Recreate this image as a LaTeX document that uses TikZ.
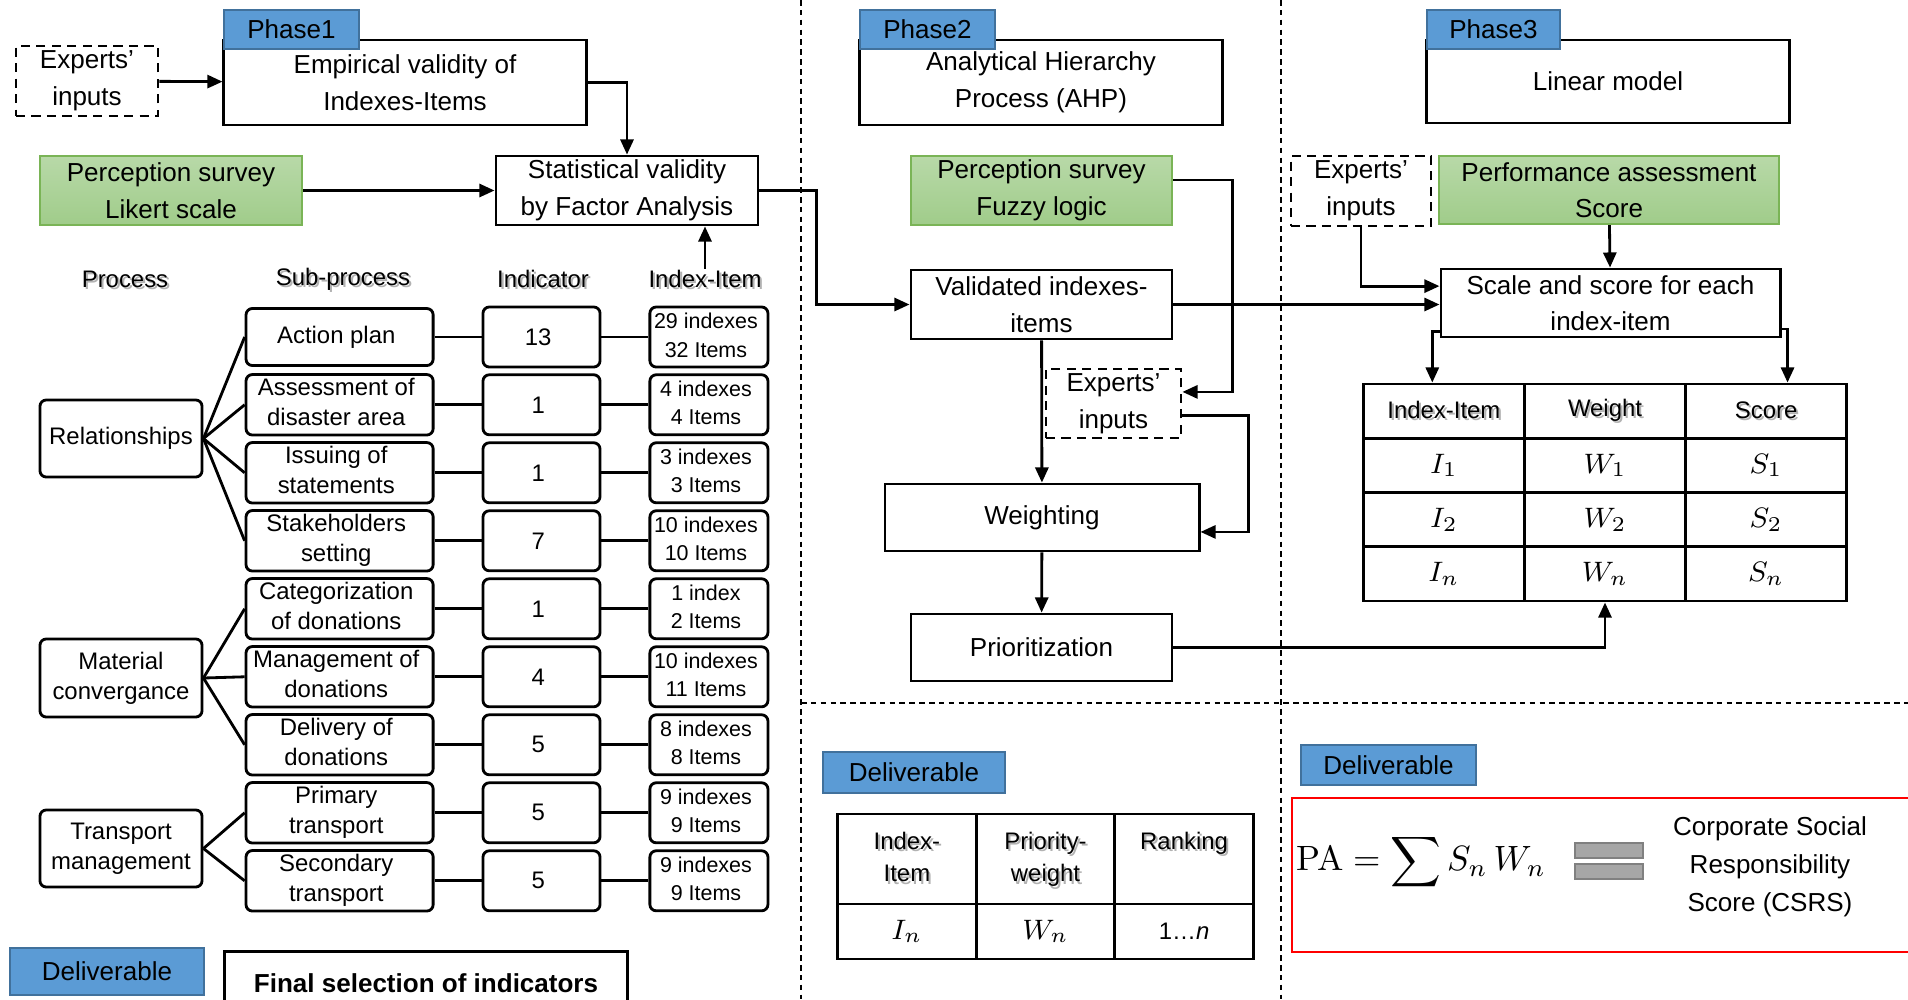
\documentclass[tikz,border=0pt]{standalone}
\usepackage{fontspec}
\setmainfont{Liberation Sans}
\usetikzlibrary{arrows.meta,matrix}

\definecolor{tabblue}{RGB}{91,155,213}
\definecolor{tabline}{RGB}{65,113,156}
\definecolor{grntop}{RGB}{184,217,168}
\definecolor{grnbot}{RGB}{160,204,138}
\definecolor{grnline}{RGB}{122,180,86}
\definecolor{bargray}{RGB}{166,166,166}
\definecolor{barline}{RGB}{128,128,128}

\newcommand\fbig{\fontsize{7.4}{10.4}\selectfont}
\newcommand\fmid{\fontsize{6.8}{8.6}\selectfont}
\newcommand\fsml{\fontsize{6.1}{8.2}\selectfont}
\newcommand\fhed{\fontsize{6.8}{9.3}\selectfont}
\newcommand\fmth{\fontsize{8.4}{10}\selectfont}
\newcommand\shd[1]{\rlap{\kern0.6pt\raisebox{-0.6pt}{\textcolor{black!30}{#1}}}#1}
\newcommand\twol[2]{\begin{tabular}{@{}c@{}}#1\\#2\end{tabular}}

\begin{document}
\begin{tikzpicture}[x=0.01cm,y=-0.01cm
	,->,>={Triangle[length=4.3pt,width=3.7pt]}
	,line width=0.8pt
	,every node/.style={inner sep=0pt}
	,box/.style={draw,align=center,font=\fbig}
	,dbox/.style={box,dash pattern=on 2.6pt off 1.8pt}
	,survey/.style={box,draw=grnline,line width=0.6pt,top color=grntop,bottom color=grnbot}
	,phasetab/.style={box,draw=tabline,line width=0.6pt,fill=tabblue}
	,rbox/.style={draw,align=center,rounded corners=1.8pt,font=\fmid}
	,hdr/.style={font=\fmid}
	,sep/.style={-,line width=0.35pt,dash pattern=on 1.6pt off 1.2pt}]

  \useasboundingbox (0,0) rectangle (1908,999);
  \clip (0,0) rectangle (1908,999);

  %dashed separators
  \draw[sep] (801,0) -- (801,999) (1281,0) -- (1281,999) (801,703) -- (1908,703);

  %phase 1 top
  \node[dbox,minimum width=1.42cm,minimum height=0.70cm] (exp1) at (87,81) {Experts'\\inputs};
  \node[box,minimum width=3.62cm,minimum height=0.85cm] (emp) at (405,82.5) {Empirical validity of\\Indexes-Items};
  \node[phasetab,minimum width=1.35cm,minimum height=0.39cm] (ph1) at (291.5,29.5) {Phase1};
  \node[survey,minimum width=2.62cm,minimum height=0.69cm] (lik) at (171,190.5) {Perception survey\\Likert scale};
  \node[box,minimum width=2.62cm,minimum height=0.69cm] (stat) at (627,190.5) {Statistical validity\\by Factor Analysis};

  %column heads
  \node[hdr] (hpro) at (125,280) {\shd{Process}};
  \node[hdr] (hsub) at (343,280) {\shd{Sub-process}};
  \node[hdr] (hind) at (543,280) {\shd{Indicator}};
  \node[hdr] (hidx) at (705,280) {\shd{Index-Item}};

  %sub-process, indicator, index-item rows
  \matrix[matrix of nodes
	,nodes={anchor=center}
	,row sep=0.047cm,column sep=0.47cm
	,column 1/.style={nodes={rbox,minimum width=1.87cm,minimum height=0.57cm}}
	,column 2/.style={nodes={rbox,minimum width=1.17cm,minimum height=0.6cm}}
	,column 3/.style={nodes={rbox,font=\fsml,minimum width=1.18cm,minimum height=0.6cm}}] (m) at (507,609)
  {
	Action plan & 13 & \twol{29 indexes}{32 Items} \\
	\twol{Assessment of}{disaster area} & 1 & \twol{4 indexes}{4 Items} \\
	\twol{Issuing of}{statements} & 1 & \twol{3 indexes}{3 Items} \\
	\twol{Stakeholders}{setting} & 7 & \twol{10 indexes}{10 Items} \\
	\twol{Categorization}{of donations} & 1 & \twol{1 index}{2 Items} \\
	\twol{Management of}{donations} & 4 & \twol{10 indexes}{11 Items} \\
	\twol{Delivery of}{donations} & 5 & \twol{8 indexes}{8 Items} \\
	\twol{Primary}{transport} & 5 & \twol{9 indexes}{9 Items} \\
	\twol{Secondary}{transport} & 5 & \twol{9 indexes}{9 Items} \\
  };

  %processes
  \node[rbox,minimum width=1.62cm,minimum height=0.77cm] (rel) at (121,438.5) {Relationships};
  \node[rbox,minimum width=1.62cm,minimum height=0.78cm] (mat) at (121,678) {Material\\convergance};
  \node[rbox,minimum width=1.62cm,minimum height=0.77cm] (tra) at (121,848.5) {Transport\\management};

  \path[-] (rel.east) edge (m-1-1.west) edge (m-2-1.west) edge (m-3-1.west) edge (m-4-1.west)
	(mat.east) edge (m-5-1.west) edge (m-6-1.west) edge (m-7-1.west)
	(tra.east) edge (m-8-1.west) edge (m-9-1.west);
  \path[-]
	(m-1-1) edge (m-1-2) (m-1-2) edge (m-1-3)
	(m-2-1) edge (m-2-2) (m-2-2) edge (m-2-3)
	(m-3-1) edge (m-3-2) (m-3-2) edge (m-3-3)
	(m-4-1) edge (m-4-2) (m-4-2) edge (m-4-3)
	(m-5-1) edge (m-5-2) (m-5-2) edge (m-5-3)
	(m-6-1) edge (m-6-2) (m-6-2) edge (m-6-3)
	(m-7-1) edge (m-7-2) (m-7-2) edge (m-7-3)
	(m-8-1) edge (m-8-2) (m-8-2) edge (m-8-3)
	(m-9-1) edge (m-9-2) (m-9-2) edge (m-9-3);

  %deliverable 1
  \node[phasetab,minimum width=1.94cm,minimum height=0.47cm] (del1) at (107,971.5) {Deliverable};
  \node[box,minimum width=4.02cm,minimum height=0.63cm] (fin) at (426,983) {\textbf{Final selection of indicators}};

  %phase 2
  \node[box,minimum width=3.62cm,minimum height=0.85cm] (ahp) at (1041,82.5) {Analytical Hierarchy\\Process (AHP)};
  \node[phasetab,minimum width=1.35cm,minimum height=0.39cm] (ph2) at (927.5,29.5) {Phase2};
  \node[survey,minimum width=2.61cm,minimum height=0.69cm] (fuz) at (1041.5,190.5) {Perception survey\\Fuzzy logic};
  \node[box,minimum width=2.61cm,minimum height=0.69cm] (val) at (1041.5,304.5) {Validated indexes-\\items};
  \node[dbox,minimum width=1.35cm,minimum height=0.69cm] (exp2) at (1113.5,403.5) {Experts'\\inputs};
  \node[box,minimum width=3.14cm,minimum height=0.67cm] (wgt) at (1042,517.5) {Weighting};
  \node[box,minimum width=2.61cm,minimum height=0.67cm] (pri) at (1041.5,647.5) {Prioritization};

  %deliverable 2
  \node[phasetab,minimum width=1.82cm,minimum height=0.41cm] (del2) at (914,772.5) {Deliverable};
  \matrix[matrix of nodes
	,nodes={draw,anchor=center,minimum width=1.385cm}
	,row sep=-0.8pt,column sep=-0.8pt
	,row 1/.style={nodes={font=\fhed,minimum height=0.9cm}}
	,row 2/.style={nodes={font=\fmth,minimum height=0.55cm}}] (t2) at (1045.5,886.5)
  {
	\twol{\shd{Index-}}{\shd{Item}} & \twol{\shd{Priority-}}{\shd{weight}} & \twol{\shd{Ranking}}{\strut} \\
	$I_n$ & $W_n$ & |[font=\fmid]| 1…\textit{n} \\
  };

  %phase 3
  \node[box,minimum width=3.62cm,minimum height=0.83cm] (lin) at (1608,81.5) {Linear model};
  \node[phasetab,minimum width=1.33cm,minimum height=0.39cm] (ph3) at (1493.5,29.5) {Phase3};
  \node[dbox,minimum width=1.40cm,minimum height=0.70cm] (exp3) at (1361,191) {Experts'\\inputs};
  \node[survey,minimum width=3.40cm,minimum height=0.68cm] (prf) at (1609,190) {Performance assessment\\Score};
  \node[box,minimum width=3.39cm,minimum height=0.68cm] (scl) at (1610.5,303) {Scale and score for each\\index-item};

  \matrix[matrix of nodes
	,nodes={draw,anchor=center,minimum width=1.61cm,minimum height=0.5425cm,font=\fmth}
	,row sep=-0.8pt,column sep=-0.8pt
	,row 1/.style={nodes={font=\fmid}}] (t1) at (1605,492.5)
  {
	\shd{Index-Item} & \shd{Weight} & \shd{Score} \\
	$I_1$ & $W_1$ & $S_1$ \\
	$I_2$ & $W_2$ & $S_2$ \\
	$I_n$ & $W_n$ & $S_n$ \\
  };

  %deliverable 3
  \node[phasetab,minimum width=1.75cm,minimum height=0.40cm] (del3) at (1388.5,765) {Deliverable};
  \draw[-,red] (1292,798) rectangle (1930,952);
  \node (pa) at (1421,862) {\fontsize{10}{12}\selectfont$\displaystyle\mbox{\fontfamily{lmr}\selectfont PA}=\sum S_n\,W_n$};
  \draw[-,fill=bargray,draw=barline,line width=0.6pt] (1575,843) rectangle (1643,858) (1575,864) rectangle (1643,879);
  \node[align=center,font=\fontsize{7.4}{10.8}\selectfont] (csrs) at (1770,867) {Corporate Social\\Responsibility\\Score (CSRS)};

  %connectors
  \path (exp1) edge (emp)
	(lik) edge (stat)
	(hidx.north) edge (hidx.north |- stat.south)
	(val) edge (wgt)
	(wgt) edge (pri)
	(prf) edge (scl);
  \draw (emp.east) -| (stat.north);
  \draw (stat.east) -- ++(57,0) |- (val.west);
  \draw (val.east) -- (val.east -| scl.west);
  \draw ([yshift=3pt]fuz.east) -- ++(59,0) |- ([yshift=3.3pt]exp2.east);
  \draw ([yshift=-3.3pt]exp2.east) -- ++(66,0) |- ([yshift=-4.1pt]wgt.east);
  \draw (pri.east) -| (t1-4-2.south);
  \draw (exp3.south) |- ([yshift=4.8pt]scl.west);
  \draw ([yshift=-8pt]scl.west) -| ([xshift=-3.3pt]t1-1-1.north);
  \draw ([yshift=-7.4pt]scl.east) -| ([xshift=6.1pt]t1-1-3.north);

\end{tikzpicture}
\end{document}
